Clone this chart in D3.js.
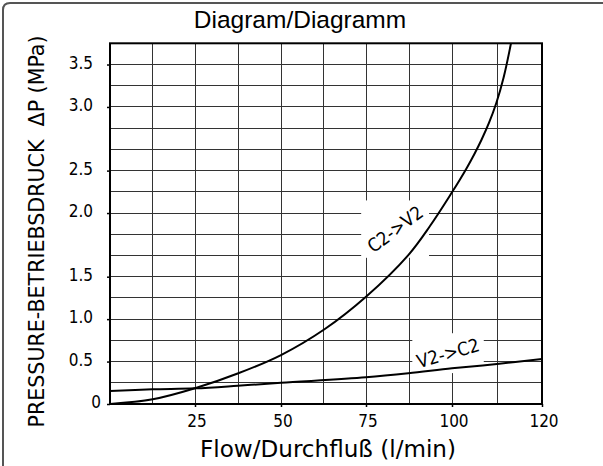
<!DOCTYPE html>
<html>
<head>
<meta charset="utf-8">
<script src="https://cdn.jsdelivr.net/npm/d3@7"></script>
<style>
  html, body { margin: 0; padding: 0; background: #fff; }
  svg { display: block; }
</style>
</head>
<body>
<svg id="chart" width="603" height="466"></svg>
<script>
// ---- data ----
const xTickValues = [25, 50, 75, 100, 120];
const xTickLabels = ["25", "50", "75", "100", "120"];
const yTickValues = [0, 0.5, 1.0, 1.5, 2.0, 2.5, 3.0, 3.5];
const yTickLabels = ["0", "0.5", "1.0", "1.5", "2.0", "2.5", "3.0", "3.5"];
const xGridValues = [0, 12.5, 25, 37.5, 50, 62.5, 75, 87.5, 100, 110, 120];
const yGridValues = [0, 0.25, 0.5, 0.75, 1.0, 1.25, 1.5, 1.667, 1.833, 2.0, 2.25, 2.5, 2.667, 2.833, 3.0, 3.25, 3.5, 3.75];

const flowC2V2 = [0, 12.56, 25, 37.4, 50, 62.9, 75, 87.3, 93.6, 100, 101.64, 103.28, 104.92, 106.56, 108.19, 109.83, 111.47, 113.11];
const pressC2V2 = [0, 0.055, 0.185, 0.359, 0.577, 0.884, 1.264, 1.670, 1.898, 2.244, 2.383, 2.520, 2.626, 2.742, 2.872, 3.043, 3.347, 3.75];

const flowV2C2 = [0, 12.5, 25, 37.4, 50, 75, 87.3, 100, 110, 120];
const pressV2C2 = [0.153, 0.173, 0.185, 0.215, 0.25, 0.314, 0.361, 0.42, 0.471, 0.53];

const title1 = "Diagram/Diagramm";
const xTitle = "Flow/Durchfluß (l/min)";
const yTitle = "PRESSURE-BETRIEBSDRUCK  ΔP (MPa)";
const labelC2V2 = "C2->V2";
const labelV2C2 = "V2->C2";

// ---- layout ----
const svg = d3.select("#chart");
const pLeft = 110, pRight = 542, pTop = 43.3, pBottom = 404;
const yMax = 3.75;

const x = d3.scaleLinear()
  .domain([0, 25, 50, 75, 100, 120])
  .range([pLeft, 195, 281, 366, 452, pRight]);

const gridIdx = [0, 2, 4, 6, 9, 11, 14, 16, 17];
const step = (pBottom - pTop) / 17;
const y = d3.scaleLinear()
  .domain([0, 0.5, 1.0, 1.5, 2.0, 2.5, 3.0, 3.5, yMax])
  .range(gridIdx.map(i => pBottom - i * step));

const tickFont = "'DejaVu Sans Condensed', 'DejaVu Sans', sans-serif";

// outer frame
svg.append("path")
  .attr("d", "M3,466 V10 Q3,3 10,3 H603")
  .attr("fill", "none").attr("stroke", "#555").attr("stroke-width", 2);

// title
svg.append("text")
  .attr("x", 300).attr("y", 27.5)
  .attr("text-anchor", "middle")
  .attr("font-family", "'Liberation Sans', Arial, sans-serif")
  .attr("font-size", 24.5)
  .attr("fill", "#000")
  .text(title1);

// grid
const grid = svg.append("g").attr("shape-rendering", "crispEdges");
grid.selectAll("line.v").data(xGridValues).join("line")
  .attr("class", "v")
  .attr("x1", d => x(d)).attr("x2", d => x(d))
  .attr("y1", pTop).attr("y2", pBottom)
  .attr("stroke", "#333").attr("stroke-width", 1);
grid.selectAll("line.h").data(yGridValues).join("line")
  .attr("class", "h")
  .attr("x1", pLeft).attr("x2", pRight)
  .attr("y1", d => y(d)).attr("y2", d => y(d))
  .attr("stroke", "#333").attr("stroke-width", 1);

// label knock-out layer (filled after text is measured)
const boxLayer = svg.append("g");

// axes
const yAxis = d3.axisLeft(y).tickValues(yTickValues).tickSize(3).tickFormat("");
svg.append("g").attr("transform", `translate(${pLeft},0)`).call(yAxis)
  .call(g => g.select(".domain").remove())
  .call(g => g.selectAll(".tick line").attr("stroke", "#000").attr("stroke-width", 1.5));
const xAxis = d3.axisBottom(x).tickValues(xTickValues).tickSize(3).tickFormat("");
svg.append("g").attr("transform", `translate(0,${pBottom})`).call(xAxis)
  .call(g => g.select(".domain").remove())
  .call(g => g.selectAll(".tick line").attr("stroke", "#000").attr("stroke-width", 1.5));

// tick labels
svg.append("g").selectAll("text").data(yTickValues).join("text")
  .attr("x", (d, i) => i === 0 ? 96 : 93)
  .attr("y", d => y(d) + 4)
  .attr("text-anchor", (d, i) => i === 0 ? "middle" : "end")
  .attr("font-family", tickFont).attr("font-size", 17).attr("fill", "#000")
  .text((d, i) => yTickLabels[i]);
svg.append("g").selectAll("text").data(xTickValues).join("text")
  .attr("x", d => x(d) + 2)
  .attr("y", 427)
  .attr("text-anchor", "middle")
  .attr("font-family", tickFont).attr("font-size", 17).attr("fill", "#000")
  .text((d, i) => xTickLabels[i]);

// axis titles
svg.append("text")
  .attr("transform", "translate(43.5,231.5) rotate(-90)")
  .attr("text-anchor", "middle")
  .attr("font-family", tickFont).attr("font-size", 20.5).attr("fill", "#000")
  .attr("textLength", 392).attr("lengthAdjust", "spacingAndGlyphs")
  .style("white-space", "pre")
  .text(yTitle);
svg.append("text")
  .attr("x", 328).attr("y", 456.5)
  .attr("text-anchor", "middle")
  .attr("font-family", tickFont).attr("font-size", 23).attr("fill", "#000")
  .attr("textLength", 256).attr("lengthAdjust", "spacingAndGlyphs")
  .text(xTitle);

// curves
svg.append("defs").append("clipPath").attr("id", "plotclip")
  .append("rect").attr("x", pLeft).attr("y", pTop).attr("width", pRight - pLeft).attr("height", pBottom - pTop);
const line = d3.line().x(d => x(d[0])).y(d => y(d[1])).curve(d3.curveCatmullRom.alpha(0.5));
const curves = svg.append("g").attr("clip-path", "url(#plotclip)");
curves.append("path").datum(flowC2V2.map((f, i) => [f, pressC2V2[i]]))
  .attr("d", line).attr("fill", "none").attr("stroke", "#000").attr("stroke-width", 2);
curves.append("path").datum(flowV2C2.map((f, i) => [f, pressV2C2[i]]))
  .attr("d", line).attr("fill", "none").attr("stroke", "#000").attr("stroke-width", 2);

// curve labels, with white knock-out boxes behind them
const labels = [
  { text: labelC2V2, cx: 395, cy: 229, rot: -37 },
  { text: labelV2C2, cx: 448, cy: 353, rot: -16 }
];
const svgRect = svg.node().getBoundingClientRect();
labels.forEach(l => {
  const t = svg.append("text")
    .attr("transform", `translate(${l.cx},${l.cy}) rotate(${l.rot})`)
    .attr("text-anchor", "middle").attr("dy", "0.36em")
    .attr("font-family", tickFont).attr("font-size", 18.5).attr("fill", "#000")
    .text(l.text);
  const b = t.node().getBoundingClientRect();
  boxLayer.append("rect")
    .attr("x", b.left - svgRect.left - 2).attr("y", b.top - svgRect.top - 1)
    .attr("width", b.width + 4).attr("height", b.height + 2)
    .attr("fill", "#fff");
});

// plot frame
svg.append("rect")
  .attr("x", pLeft).attr("y", pTop).attr("width", pRight - pLeft).attr("height", pBottom - pTop)
  .attr("fill", "none").attr("stroke", "#000").attr("stroke-width", 2);
</script>
</body>
</html>
